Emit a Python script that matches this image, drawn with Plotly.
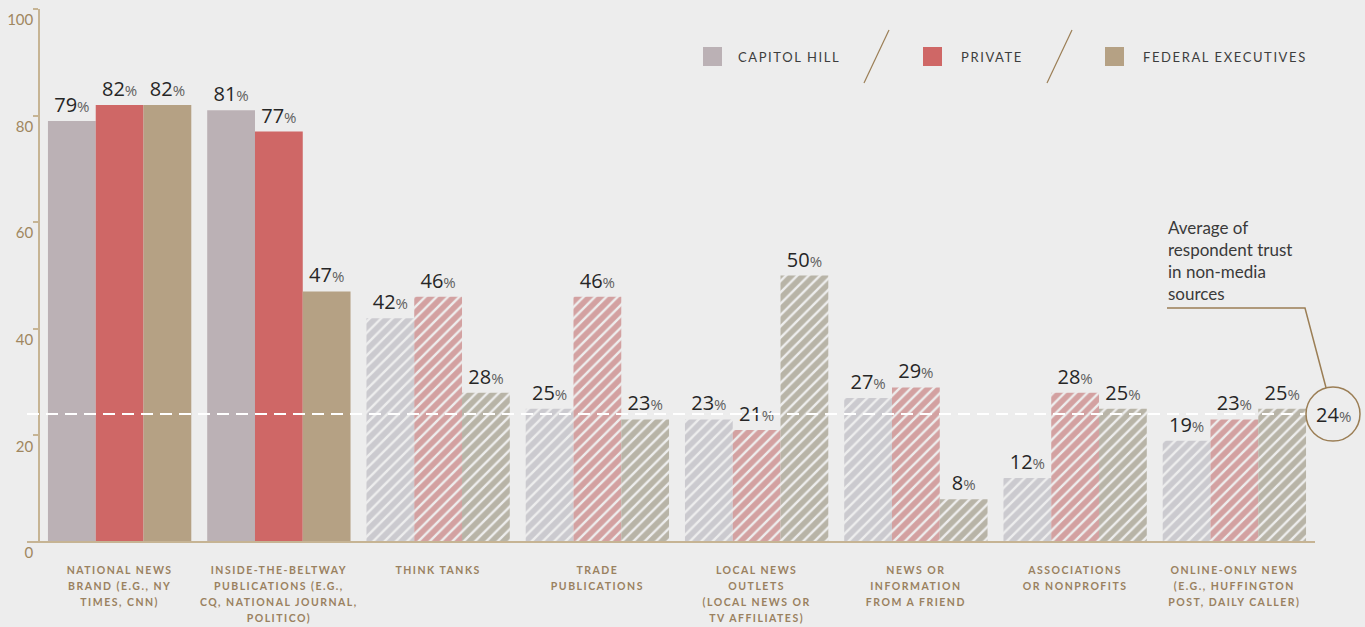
import plotly.graph_objects as go

# ---- data -------------------------------------------------------------
categories = [
    "NATIONAL NEWS<br>BRAND (E.G., NY<br>TIMES, CNN)",
    "INSIDE-THE-BELTWAY<br>PUBLICATIONS (E.G.,<br>CQ, NATIONAL JOURNAL,<br>POLITICO)",
    "THINK TANKS",
    "TRADE<br>PUBLICATIONS",
    "LOCAL NEWS<br>OUTLETS<br>(LOCAL NEWS OR<br>TV AFFILIATES)",
    "NEWS OR<br>INFORMATION<br>FROM A FRIEND",
    "ASSOCIATIONS<br>OR NONPROFITS",
    "ONLINE-ONLY NEWS<br>(E.G., HUFFINGTON<br>POST, DAILY CALLER)",
]
is_media = [True, True, False, False, False, False, False, False]

capitol_hill = [79, 81, 42, 25, 23, 27, 12, 19]
private = [82, 77, 46, 46, 21, 29, 28, 23]
federal_exec = [82, 47, 28, 23, 50, 8, 25, 25]

non_media_average = 24

series_names = ["CAPITOL HILL", "PRIVATE", "FEDERAL EXECUTIVES"]
y_ticks = [0, 20, 40, 60, 80, 100]

# ---- styling ----------------------------------------------------------
BG = "#ededed"
AXIS = "#c6b494"
TAN_TEXT = "#9a8160"
solid_colors = ["#bbb1b5", "#cf6766", "#b5a184"]
hatch_colors = ["#cbcacf", "#d3a1a1", "#b8b4a7"]
stripe_color = "#ebebeb"

# plot area in pixels (used to place layout decorations)
W, H = 1365, 627
ML, MR, MT, MB = 40, 51, 9, 85
PW, PH = W - ML - MR, H - MT - MB


def px_x(p):
    return (p - ML) / PW


def px_y(p):
    return (H - MB - p) / PH


def cat_label(t):
    lines = t.split("<br>")
    return "<br>".join(
        f"<span style='font-size:10.5px;letter-spacing:1.5px'>{ln}</span>" for ln in lines
    )


def pct_text(v):
    return f"{v}<span style='font-size:15px;color:#5f5f5f'>%</span>"


fig = go.Figure()
for name, vals, solid, hatch in zip(
    series_names, [capitol_hill, private, federal_exec], solid_colors, hatch_colors
):
    fig.add_trace(
        go.Bar(
            name=name,
            x=list(range(len(categories))),
            y=vals,
            marker=dict(
                color=[solid if m else hatch for m in is_media],
                line=dict(width=0),
                # hatched bars: wide coloured stripes on a light ground
                pattern=dict(
                    shape=["" if m else "/" for m in is_media],
                    fillmode="replace",
                    fgcolor=[solid if m else hatch for m in is_media],
                    bgcolor=stripe_color,
                    size=8,
                    solidity=0.7,
                ),
            ),
            text=[pct_text(v) for v in vals],
            textposition="outside",
            textfont=dict(family="Open Sans", size=20, color="#262626"),
            constraintext="none",
            cliponaxis=False,
            hoverinfo="skip",
        )
    )

# white dashed average line, drawn over the bars, ending at the circle
fig.add_shape(
    type="line", xref="paper", yref="y",
    x0=px_x(27), x1=px_x(1306), y0=non_media_average, y1=non_media_average,
    line=dict(color="white", width=2, dash="12px,7px"), layer="above",
)

# circle holding the average value
cx = 1333
fig.add_shape(
    type="circle", xref="paper", yref="y",
    xsizemode="pixel", ysizemode="pixel",
    xanchor=px_x(cx), yanchor=non_media_average,
    x0=-27, x1=27, y0=-27, y1=27,
    line=dict(color="#9b7e55", width=1.5), fillcolor="rgba(0,0,0,0)",
)
fig.add_annotation(
    xref="paper", yref="y", x=px_x(cx), y=non_media_average,
    text=f"{non_media_average}<span style='font-size:15px;color:#5f5f5f'>%</span>",
    showarrow=False, font=dict(family="Open Sans", size=20, color="#262626"),
    xanchor="center", yanchor="middle",
)

# callout text with leader line
fig.add_annotation(
    xref="paper", yref="paper", x=px_x(1166), y=px_y(215),
    text="Average of<br>respondent trust<br>in non-media<br>sources",
    showarrow=False, align="left", xanchor="left", yanchor="top",
    font=dict(family="Lato", size=17, color="#3a3a3a"),
)
avg_py = H - MB - non_media_average * PH / 100
fig.add_shape(
    type="path", xref="paper", yref="paper",
    path=(
        f"M {px_x(1167)} {px_y(308)} L {px_x(1305)} {px_y(308)} "
        f"L {px_x(cx - 6.9)} {px_y(avg_py - 26.1)}"
    ),
    line=dict(color="#9b7e55", width=1.5),
)

# baseline
fig.add_shape(
    type="line", xref="paper", yref="paper",
    x0=px_x(27), x1=px_x(1315), y0=0, y1=0,
    line=dict(color=AXIS, width=2),
)

# legend: swatches, labels, slanted separators
legend_items = [(703, 736), (923, 959), (1105, 1141)]
for (sx, tx), name, col in zip(legend_items, series_names, solid_colors):
    fig.add_shape(
        type="rect", xref="paper", yref="paper",
        x0=px_x(sx), x1=px_x(sx + 19), y0=px_y(66), y1=px_y(47),
        fillcolor=col, line=dict(width=0),
    )
    fig.add_annotation(
        xref="paper", yref="paper", x=px_x(tx), y=px_y(57),
        text=f"<span style='letter-spacing:1.6px'>{name}</span>",
        showarrow=False, xanchor="left", yanchor="middle",
        font=dict(family="Lato", size=13, color="#3d3d3d"),
    )
for x0, x1 in [(864, 889), (1047, 1072)]:
    fig.add_shape(
        type="line", xref="paper", yref="paper",
        x0=px_x(x0), x1=px_x(x1), y0=px_y(83), y1=px_y(30),
        line=dict(color="#9b7e55", width=1.2),
    )

fig.update_layout(
    width=W, height=H, autosize=False,
    margin=dict(l=ML, r=MR, t=MT, b=MB),
    paper_bgcolor=BG, plot_bgcolor=BG,
    barmode="group", bargap=0.1, bargroupgap=0,
    showlegend=False,
    xaxis=dict(
        tickmode="array",
        tickvals=list(range(len(categories))),
        ticktext=[cat_label(c) for c in categories],
        range=[-0.5, len(categories) - 0.5],
        showline=False, showgrid=False, zeroline=False, ticks="",
        tickfont=dict(family="Lato", size=12.3, color=TAN_TEXT, weight=700),
        ticklabelstandoff=19,
        tickangle=0,
        automargin=False,
    ),
    yaxis=dict(
        range=[0, 100],
        tickvals=y_ticks,
        showline=True, linecolor=AXIS, linewidth=1.5,
        ticks="outside", ticklen=5, tickcolor=AXIS, tickwidth=1.5,
        showgrid=False, zeroline=False,
        tickfont=dict(family="Lato", size=15, color="#a0875f"),
        ticklabelshift=11,
        ticklabelstandoff=-3,
        automargin=False,
    ),
)

fig.write_html("out.html")
